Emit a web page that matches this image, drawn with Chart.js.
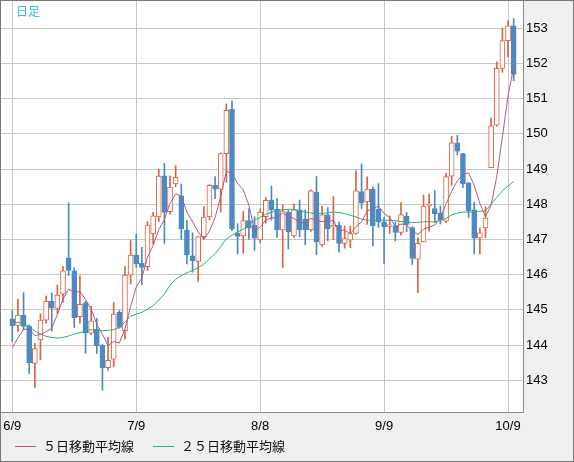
<!DOCTYPE html>
<html>
<head>
<meta charset="utf-8">
<script src="https://cdn.jsdelivr.net/npm/chart.js@4"></script>
<style>
  html, body { margin: 0; padding: 0; background: #fff; }
  #chart { display: block; }
</style>
</head>
<body>
<canvas id="chart" width="574" height="462"></canvas>
<script>
// daily candles
const openPrices = [
  144.75, 144.56, 144.85, 144.54, 143.48, 144.15, 144.71, 145.25, 145.04, 145.45,
  146.48, 146.11, 144.81, 145.20, 144.34, 144.45, 144.00, 143.36, 143.60, 144.93,
  144.41, 145.99, 146.56, 146.32, 146.23, 147.16, 147.64, 148.81, 147.79, 148.58,
  148.24, 147.27, 146.54, 146.38, 147.08, 147.64, 148.54, 148.43, 149.44, 150.70,
  147.18, 147.10, 147.54, 147.40, 146.99, 147.65, 148.12, 147.86, 147.27, 147.78,
  147.10, 147.84, 147.58, 147.27, 148.35, 146.85, 147.70, 147.36, 147.40, 146.89,
  146.98, 147.17, 148.36, 148.07, 148.43, 147.86, 147.50, 147.37, 147.39, 147.20,
  147.66, 147.34, 146.44, 146.93, 147.97, 147.88, 147.75, 147.52, 148.80, 149.75,
  149.44, 148.61, 147.84, 147.04, 147.33, 149.04, 150.25, 151.86, 152.65, 153.07
];
const highPrices = [
  144.98, 145.31, 145.49, 144.57, 144.05, 144.89, 145.40, 145.48, 145.71, 146.24,
  148.04, 146.20, 145.97, 145.25, 145.10, 144.76, 144.02, 144.22, 145.21, 144.98,
  146.23, 146.97, 147.16, 146.78, 147.51, 147.77, 149.00, 149.16, 148.80, 149.10,
  148.58, 147.54, 147.19, 147.08, 147.94, 148.56, 148.79, 149.46, 150.85, 150.93,
  147.45, 147.80, 147.87, 147.65, 147.87, 148.20, 148.52, 148.17, 147.98, 147.84,
  148.01, 148.12, 147.84, 148.41, 148.79, 147.95, 147.91, 148.22, 147.50, 147.38,
  147.38, 148.96, 149.15, 148.78, 148.50, 148.59, 147.63, 147.67, 147.50, 148.05,
  147.77, 147.36, 147.05, 148.26, 148.29, 148.39, 147.95, 148.89, 149.93, 149.96,
  149.45, 148.62, 148.06, 147.33, 147.93, 150.46, 152.05, 153.00, 153.22, 153.28
];
const lowPrices = [
  144.10, 144.39, 144.43, 143.19, 142.79, 143.58, 144.62, 144.40, 144.89, 145.21,
  145.98, 144.50, 144.62, 143.77, 144.30, 143.76, 142.72, 143.29, 143.38, 144.48,
  144.17, 145.74, 146.21, 145.72, 146.12, 146.86, 147.51, 146.89, 147.72, 148.50,
  147.00, 146.31, 146.07, 145.81, 147.02, 147.56, 148.16, 147.78, 148.63, 147.25,
  146.59, 146.61, 147.00, 146.69, 146.90, 147.46, 147.55, 147.06, 146.20, 146.73,
  147.06, 147.08, 146.85, 147.23, 146.57, 146.79, 146.96, 147.00, 146.64, 146.75,
  146.77, 147.15, 147.88, 147.43, 146.82, 147.34, 146.32, 147.17, 146.96, 147.12,
  147.22, 146.29, 145.49, 146.93, 147.24, 147.48, 147.44, 147.48, 148.54, 149.41,
  148.47, 147.63, 146.59, 146.59, 147.06, 149.04, 150.22, 151.75, 152.19, 151.51
];
const closePrices = [
  144.55, 144.85, 144.53, 143.50, 143.90, 144.71, 145.25, 145.05, 145.42, 146.11,
  146.12, 144.78, 145.16, 144.34, 144.69, 143.98, 143.36, 143.57, 144.88, 144.50,
  145.99, 146.56, 146.31, 146.21, 147.41, 147.67, 148.80, 147.77, 148.49, 148.77,
  147.30, 146.56, 146.40, 147.08, 147.64, 148.54, 148.43, 149.44, 150.67, 147.30,
  147.09, 147.54, 147.32, 147.04, 147.78, 148.11, 147.84, 147.27, 147.81, 147.22,
  147.84, 147.27, 147.27, 148.38, 146.93, 147.70, 147.31, 147.40, 146.89, 147.03,
  147.17, 148.38, 148.04, 148.43, 147.39, 147.50, 147.36, 147.42, 147.20, 147.71,
  147.43, 146.46, 146.89, 147.95, 148.00, 147.73, 147.56, 148.79, 149.75, 149.51,
  148.58, 147.82, 147.04, 147.19, 147.61, 150.23, 151.86, 152.65, 153.07, 151.69
];
const ma5 = [
  143.93, 144.20, 144.45, 144.45, 144.27, 144.30, 144.38, 144.48, 144.87, 145.31,
  145.59, 145.50, 145.52, 145.30, 145.02, 144.59, 144.31, 143.99, 144.10, 144.06,
  144.46, 145.10, 145.65, 145.91, 146.50, 146.83, 147.28, 147.57, 148.03, 148.30,
  148.23, 147.78, 147.50, 147.22, 147.00, 147.24, 147.62, 148.23, 148.94, 148.88,
  148.59, 148.41, 147.98, 147.26, 147.35, 147.56, 147.62, 147.61, 147.76, 147.65,
  147.60, 147.48, 147.48, 147.60, 147.54, 147.51, 147.52, 147.54, 147.25, 147.27,
  147.16, 147.37, 147.50, 147.81, 147.88, 147.95, 147.74, 147.62, 147.37, 147.44,
  147.42, 147.24, 147.14, 147.29, 147.35, 147.41, 147.63, 148.01, 148.37, 148.67,
  148.84, 148.89, 148.54, 148.03, 147.65, 147.98, 148.79, 149.91, 151.08, 151.90
];
const ma25 = [
  144.62, 144.65, 144.60, 144.53, 144.40, 144.32, 144.25, 144.22, 144.20, 144.22,
  144.26, 144.32, 144.35, 144.40, 144.44, 144.43, 144.41, 144.42, 144.44, 144.50,
  144.65, 144.82, 144.88, 144.93, 145.02, 145.12, 145.28, 145.45, 145.70, 145.87,
  145.98, 146.05, 146.12, 146.20, 146.30, 146.45, 146.60, 146.80, 147.02, 147.12,
  147.21, 147.30, 147.40, 147.55, 147.63, 147.72, 147.77, 147.83, 147.85, 147.86,
  147.86, 147.82, 147.78, 147.75, 147.74, 147.74, 147.76, 147.78, 147.77, 147.74,
  147.69, 147.64, 147.58, 147.55, 147.55, 147.55, 147.55, 147.55, 147.54, 147.51,
  147.50, 147.48, 147.49, 147.50, 147.51, 147.50, 147.54, 147.60, 147.70, 147.75,
  147.78, 147.78, 147.78, 147.80, 147.82, 148.00, 148.20, 148.38, 148.52, 148.65
];

// candle index where each date label sits
const dateTickIndexes = [0, 22, 44, 66, 88];
const dateTickLabels = ["6/9", "7/9", "8/8", "9/9", "10/9"];
const priceTicks = [143, 144, 145, 146, 147, 148, 149, 150, 151, 152, 153];
const legendLabels = ["５日移動平均線", "２５日移動平均線"];
const chartTitle = "日足";

const upColor = "#e0623e";
const downColor = "#4d8ac4";
const ma5Color = "#b3598b";
const ma25Color = "#2fb36f";
const gridColor = "#c8c8c8";

function isUp(i) {
  return closePrices[i] >= openPrices[i];
}

const bodyData = openPrices.map((o, i) => ({ x: i, y: [o, closePrices[i]] }));
const wickData = lowPrices.map((l, i) => ({ x: i, y: [l, highPrices[i]] }));
const ma5Data = ma5.map((v, i) => ({ x: i, y: v }));
const ma25Data = ma25.map((v, i) => ({ x: i, y: v }));

// background, frame, title and legend
const framePlugin = {
  id: "frame",
  beforeDraw(chart) {
    const { ctx, chartArea: a, width, height } = chart;
    ctx.save();
    ctx.fillStyle = "#efefef";
    ctx.fillRect(0, 0, width, height);
    ctx.fillStyle = "#ffffff";
    ctx.fillRect(a.left, a.top, a.right - a.left, a.bottom - a.top);
    ctx.restore();
  },
  afterDraw(chart) {
    const { ctx, chartArea: a, width, height } = chart;
    ctx.save();
    ctx.lineWidth = 1;
    ctx.strokeStyle = "#8a8a8a";
    ctx.beginPath();
    ctx.moveTo(Math.round(a.right) + 0.5, 0);
    ctx.lineTo(Math.round(a.right) + 0.5, Math.round(a.bottom) + 0.5);
    ctx.lineTo(0, Math.round(a.bottom) + 0.5);
    ctx.stroke();
    ctx.strokeStyle = "#787872";
    ctx.strokeRect(0.5, 0.5, width - 1, height - 1);

    ctx.fillStyle = "#3bb8ec";
    ctx.font = "12px 'Noto Sans CJK JP'";
    ctx.textBaseline = "middle";
    ctx.fillText(chartTitle, 16, 11);

    // legend
    const legendY = 446.5;
    const items = [
      { color: ma5Color, x: 15, text: legendLabels[0] },
      { color: ma25Color, x: 153, text: legendLabels[1] },
    ];
    ctx.font = "13px 'Noto Sans CJK JP'";
    items.forEach((it) => {
      ctx.strokeStyle = it.color;
      ctx.beginPath();
      ctx.moveTo(it.x, legendY);
      ctx.lineTo(it.x + 21, legendY);
      ctx.stroke();
      ctx.fillStyle = "#111";
      ctx.fillText(it.text, it.x + 28, legendY);
    });
    ctx.restore();
  },
};

new Chart(document.getElementById("chart"), {
  type: "bar",
  data: {
    datasets: [
      {
        type: "line",
        label: legendLabels[0],
        data: ma5Data,
        borderColor: ma5Color,
        borderWidth: 1,
        pointRadius: 0,
        tension: 0,
        order: 0,
      },
      {
        type: "line",
        label: legendLabels[1],
        data: ma25Data,
        borderColor: ma25Color,
        borderWidth: 1,
        pointRadius: 0,
        tension: 0,
        order: 0,
      },
      {
        label: "body",
        data: bodyData,
        backgroundColor: (c) => (isUp(c.dataIndex) ? "#ffffff" : downColor),
        borderColor: (c) => (isUp(c.dataIndex) ? upColor : downColor),
        borderWidth: 1,
        borderSkipped: false,
        barThickness: 5,
        minBarLength: 1,
        grouped: false,
        order: 1,
      },
      {
        label: "wick",
        data: wickData,
        backgroundColor: (c) => (isUp(c.dataIndex) ? upColor : downColor),
        borderWidth: 0,
        barThickness: 1,
        grouped: false,
        order: 2,
      },
    ],
  },
  options: {
    responsive: false,
    animation: false,
    devicePixelRatio: 1,
    layout: { padding: { left: 1, top: 1, right: 1, bottom: 0 } },
    plugins: {
      legend: { display: false },
      tooltip: { enabled: false },
    },
    scales: {
      x: {
        type: "linear",
        min: -2.006,
        max: 90.66,
        offset: false,
        grid: { color: gridColor, drawTicks: false, offset: false },
        border: { display: false },
        afterBuildTicks: (scale) => {
          scale.ticks = dateTickIndexes.map((v) => ({ value: v }));
        },
        afterFit: (scale) => {
          scale.height = 50;
          scale.paddingLeft = 0;
          scale.paddingRight = 0;
        },
        ticks: {
          padding: 7,
          maxRotation: 0,
          autoSkip: false,
          color: "#000",
          font: { family: "'Liberation Sans'", size: 13 },
          callback: (value) => dateTickLabels[dateTickIndexes.indexOf(value)],
        },
      },
      y: {
        type: "linear",
        position: "right",
        min: 142.1,
        max: 153.776,
        grid: { color: gridColor, drawTicks: false },
        border: { display: false },
        afterBuildTicks: (scale) => {
          scale.ticks = priceTicks.map((v) => ({ value: v }));
        },
        afterFit: (scale) => {
          scale.width = 50;
          scale.paddingTop = 0;
          scale.paddingBottom = 0;
        },
        ticks: {
          padding: 3,
          color: "#000",
          font: { family: "'Liberation Sans'", size: 13 },
        },
      },
    },
  },
  plugins: [framePlugin],
});
</script>
</body>
</html>
